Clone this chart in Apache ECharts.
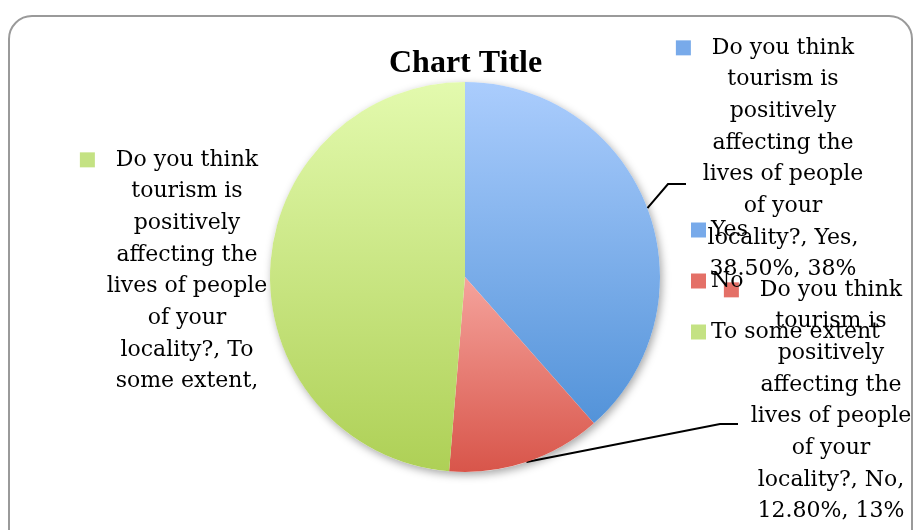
<!DOCTYPE html>
<html>
<head>
<meta charset="utf-8">
<script src="https://cdn.jsdelivr.net/npm/echarts@6/dist/echarts.min.js"></script>
<style>
    html, body {
        margin: 0;
        padding: 0;
        background: #fff;
        overflow: hidden;
    }
    .frame {
        position: absolute;
        left: 8px;
        top: 15px;
        width: 901px;
        height: 600px;
        border: 2px solid #9a9a9a;
        border-radius: 24px;
    }
    #pieChart {
        position: absolute;
        left: 0;
        top: 0;
        width: 914px;
        height: 530px;
    }
</style>
</head>
<body>
<div class="frame"></div>
<div id="pieChart"></div>
<script>
// data
const categories = ['Yes', 'No', 'To some extent'];
const values = [38.5, 12.8, 48.7];
// data label text: the question lines + the tail lines for each slice
const questionLines = ['Do you think', 'tourism is', 'positively', 'affecting the', 'lives of people', 'of your'];
const tailLines = [
    ['locality?, Yes,', '38.50%, 38%'],
    ['locality?, No,', '12.80%, 13%'],
    ['locality?, To', 'some extent,']
];

// colours (top / bottom of the gradient, legend key)
const topColors = ['#abcdfd', '#f5a39c', '#e3faae'];
const bottomColors = ['#5393d9', '#d8554a', '#aed056'];
const keyColors = ['#78aaea', '#e47067', '#c4e283'];

const font = 'DejaVu Serif';

// where each data label sits (centre x, top y)
const labelPos = [[783, 32], [831, 274], [187, 144]];

const pieCenter = [465, 277];
const pieRadius = 195;

let pieChart = echarts.init(document.getElementById('pieChart'));

const seriesData = categories.map((name, i) => {
    return {
        name: name,
        value: values[i],
        itemStyle: {
            color: {
                type: 'linear', x: 0, y: 0, x2: 0, y2: 1,
                colorStops: [
                    { offset: 0, color: topColors[i] },
                    { offset: 1, color: bottomColors[i] }
                ]
            }
        },
        labelLine: { show: i !== 2 }
    };
});

// rich styles for the little key square in front of each label
const rich = {};
keyColors.forEach((c, i) => {
    rich['sq' + i] = { width: 15, height: 15, backgroundColor: c };
});
rich.gap = { width: 21 };
rich.pad = { width: 36 };

pieChart.setOption({
    animation: false,
    title: {
        text: 'Chart Title',
        left: 384,
        top: 43,
        textStyle: {
            fontFamily: 'Liberation Serif',
            fontSize: 32,
            fontWeight: 'bold',
            color: '#000'
        }
    },
    legend: {
        orient: 'vertical',
        left: 686,
        top: 214,
        itemWidth: 15,
        itemHeight: 15,
        itemGap: 29,
        icon: 'rect',
        data: categories.map((c, i) => ({ name: c, itemStyle: { color: keyColors[i] } })),
        textStyle: {
            fontFamily: font,
            fontSize: 22,
            lineHeight: 22,
            color: '#000'
        }
    },
    series: [
        {
            // soft shadow under the whole pie
            name: 'shadow',
            type: 'pie',
            center: pieCenter,
            radius: pieRadius,
            silent: true,
            z: 1,
            label: { show: false },
            labelLine: { show: false },
            data: [{ value: 1, name: 'shadow' }],
            itemStyle: {
                color: '#fff',
                shadowBlur: 9,
                shadowOffsetX: 2,
                shadowOffsetY: 3,
                shadowColor: 'rgba(0, 0, 0, 0.35)'
            }
        },
        {
            name: 'Tourism',
            type: 'pie',
            center: pieCenter,
            radius: pieRadius,
            startAngle: 90,
            clockwise: true,
            avoidLabelOverlap: false,
            z: 2,
            data: seriesData,
            emphasis: { disabled: true },
            label: {
                show: true,
                position: 'outside',
                fontFamily: font,
                fontSize: 22,
                lineHeight: 31.7,
                color: '#000',
                align: 'center',
                rich: rich,
                formatter: (p) => {
                    const i = p.dataIndex;
                    const lines = questionLines.concat(tailLines[i]);
                    lines[0] = '{sq' + i + '| }{gap|}' + lines[0] + '{pad|}';
                    return lines.join('\n');
                }
            },
            labelLine: {
                show: true,
                lineStyle: { color: '#000', width: 2 }
            },
            labelLayout: (params) => {
                const i = params.dataIndex;
                const pos = labelPos[i];
                const res = {
                    x: pos[0],
                    y: pos[1],
                    align: 'center',
                    verticalAlign: 'top'
                };
                if (params.labelLinePoints && i !== 2) {
                    // start from the slice edge the library gives, then bend toward the label
                    const start = params.labelLinePoints[0];
                    const elbow = i === 0 ? [668, 184] : [720, 424];
                    res.labelLinePoints = [start, elbow, [elbow[0] + 18, elbow[1]]];
                }
                return res;
            }
        }
    ]
});
</script>
</body>
</html>
